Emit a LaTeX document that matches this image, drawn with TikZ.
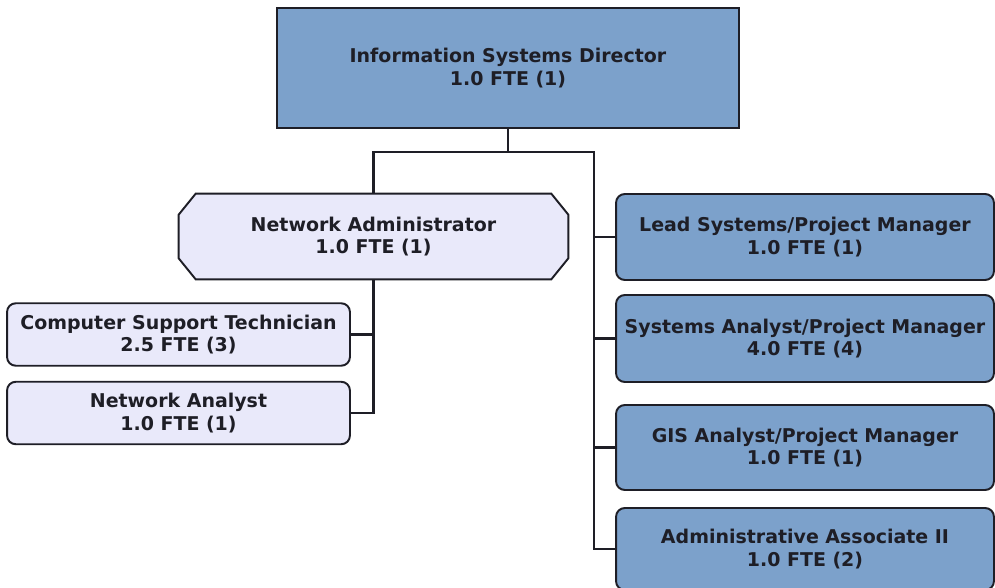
\documentclass[tikz,border=0pt]{standalone}
\usepackage{fontspec}
\setmainfont{DejaVu Sans}
\usetikzlibrary{backgrounds}
\definecolor{chiefblue}{RGB}{124,161,203}
\definecolor{lavbox}{RGB}{233,233,250}
\definecolor{edgegray}{RGB}{30,30,38}
\begin{document}
\begin{tikzpicture}
      [
      x=0.02cm, y=-0.02cm,
      every node/.style={font=\bfseries\fontsize{10.8}{13}\selectfont,align=center,text=edgegray},
      chief/.style={draw=edgegray,line width=1.1pt,fill=chiefblue,rectangle,minimum width=9.24cm,minimum height=2.4cm},
      octa/.style={rectangle,minimum width=7.78cm,minimum height=1.7cm,inner sep=0pt},
      staff/.style={draw=edgegray,line width=1.1pt,fill=lavbox,rounded corners=5pt,minimum width=6.86cm,minimum height=1.25cm},
      team/.style={draw=edgegray,line width=1.1pt,fill=chiefblue,rounded corners=5pt,minimum width=7.56cm,minimum height=1.72cm},
      link/.style={draw=edgegray,line width=1.2pt}
      ]
      \useasboundingbox (0,0) rectangle (995,588);
      \node (dir) at (508,68) [chief] {Information Systems Director\\1.0 FTE (1)};
      \node (netadmin) at (373.5,236.5) [octa] {Network Administrator\\1.0 FTE (1)};
      \begin{scope}[on background layer]
        \draw [draw=edgegray,line width=1.1pt,fill=lavbox]
          ([xshift=17*0.02cm]netadmin.north west) -- ([xshift=-17*0.02cm]netadmin.north east)
          -- ([yshift=-21*0.02cm]netadmin.north east) -- ([yshift=21*0.02cm]netadmin.south east)
          -- ([xshift=-17*0.02cm]netadmin.south east) -- ([xshift=17*0.02cm]netadmin.south west)
          -- ([yshift=21*0.02cm]netadmin.south west) -- ([yshift=-21*0.02cm]netadmin.north west) -- cycle;
      \end{scope}
      \node (support) at (178.5,334.5) [staff] {Computer Support Technician\\2.5 FTE (3)};
      \node (analyst) at (178.5,413) [staff] {Network Analyst\\1.0 FTE (1)};
      \node (lead) at (805,237) [team] {Lead Systems/Project Manager\\1.0 FTE (1)};
      \node (sysan) at (805,338.5) [team,minimum height=1.74cm] {Systems Analyst/Project Manager\\4.0 FTE (4)};
      \node (gis) at (805,447.5) [team,minimum height=1.7cm] {GIS Analyst/Project Manager\\1.0 FTE (1)};
      \node (admin) at (805,549) [team,minimum height=1.64cm] {Administrative Associate II\\1.0 FTE (2)};
      \coordinate (bar) at (dir.south |- 0,152);
      \coordinate (trunk) at (594,152);
      \draw [link] (dir.south) to (bar);
      \draw [link] (netadmin.north) |- (trunk) |- (admin.west);
      \foreach \n in {lead,sysan,gis}
        \draw [link] (\n.west) to (\n.west -| trunk);
      \draw [link] (netadmin.south) |- (analyst.east);
      \draw [link] (support.east) to (support.east -| netadmin.south);
    \end{tikzpicture}
\end{document}
